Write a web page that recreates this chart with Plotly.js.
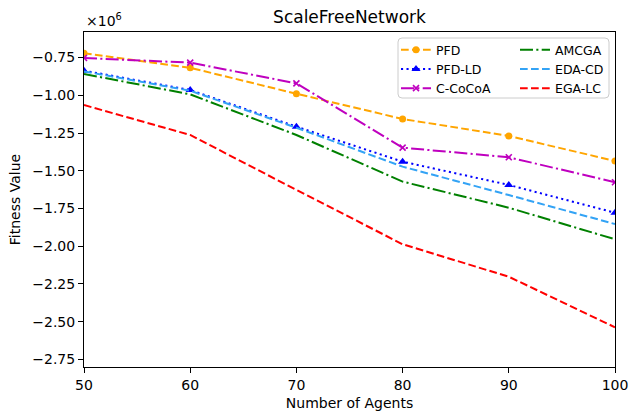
<!DOCTYPE html>
<html>
<head>
<meta charset="utf-8">
<script src="https://cdn.plot.ly/plotly-3.0.1.min.js"></script>
<style>html,body{margin:0;padding:0;background:#fff;}#chart{width:633px;height:416px;}</style>
</head>
<body>
<div id="chart"></div>
<script>
// Values in units of 1e6
const agents = [50, 60, 70, 80, 90, 100];
const pfd    = [-0.722, -0.818, -0.990, -1.157, -1.270, -1.435];
const pfdLd  = [-0.837, -0.965, -1.208, -1.440, -1.594, -1.778];
const cCocoa = [-0.753, -0.784, -0.921, -1.347, -1.411, -1.576];
const amcga  = [-0.859, -0.994, -1.263, -1.572, -1.745, -1.954];
const edaCd  = [-0.842, -0.970, -1.215, -1.473, -1.661, -1.853];
const egaLc  = [-1.065, -1.263, -1.627, -1.987, -2.202, -2.537];
const yTicks = [-0.75, -1.00, -1.25, -1.50, -1.75, -2.00, -2.25, -2.50, -2.75];
const xTicks = [50, 60, 70, 80, 90, 100];

const W = 633, H = 416;
const M = {l: 84, r: 18, t: 32, b: 49};
const PW = W - M.l - M.r, PH = H - M.t - M.b;
const px2x = p => (p - M.l) / PW;
const py2y = p => (H - M.b - p) / PH;

const lw = 2;
const traces = [
  {name: 'PFD', y: pfd, line: {color: '#FFA500', dash: '7.7px,3.3px', width: lw},
   mode: 'lines+markers', marker: {symbol: 'circle', size: 7, color: '#FFA500'}, legend: 'legend'},
  {name: 'PFD-LD', y: pfdLd, line: {color: '#0000FF', dash: '2.1px,3.4px', width: lw},
   mode: 'lines+markers', marker: {symbol: 'triangle-up', size: 8, color: '#0000FF'}, legend: 'legend'},
  {name: 'C-CoCoA', y: cCocoa, line: {color: '#BF00BF', dash: '13px,3.3px,2.1px,3.3px', width: lw},
   mode: 'lines+markers', marker: {symbol: 'x-thin', size: 6, color: '#BF00BF', line: {color: '#BF00BF', width: 1.6}}, legend: 'legend'},
  {name: 'AMCGA', y: amcga, line: {color: '#008000', dash: '13px,3.3px,2.1px,3.3px', width: lw},
   mode: 'lines', legend: 'legend2'},
  {name: 'EDA-CD', y: edaCd, line: {color: '#33A3F5', dash: '7.7px,3.3px', width: lw},
   mode: 'lines', legend: 'legend2'},
  {name: 'EGA-LC', y: egaLc, line: {color: '#FF0000', dash: '7.7px,3.3px', width: lw},
   mode: 'lines', legend: 'legend2'}
].map(t => Object.assign({type: 'scatter', x: agents}, t));

const axisCommon = {
  showgrid: false, zeroline: false, showline: true, mirror: true,
  linecolor: '#000', linewidth: 1, ticks: 'outside', ticklen: 5, tickwidth: 1,
  tickcolor: '#000', tickfont: {family: 'DejaVu Sans', size: 14, color: '#000'}
};

// Combined legend frame (rounded rectangle)
const bx0 = px2x(398), bx1 = px2x(609), by0 = py2y(98), by1 = py2y(38);
const rx = 4 / PW, ry = 4 / PH;
const framePath = `M${bx0 + rx},${by1} L${bx1 - rx},${by1} Q${bx1},${by1} ${bx1},${by1 - ry} ` +
  `L${bx1},${by0 + ry} Q${bx1},${by0} ${bx1 - rx},${by0} L${bx0 + rx},${by0} ` +
  `Q${bx0},${by0} ${bx0},${by0 + ry} L${bx0},${by1 - ry} Q${bx0},${by1} ${bx0 + rx},${by1} Z`;

const legendCommon = {
  bgcolor: 'rgba(0,0,0,0)', borderwidth: 0, xanchor: 'left', yanchor: 'top',
  font: {family: 'DejaVu Sans', size: 12.5, color: '#000'}, itemwidth: 30,
  tracegroupgap: 0
};

const layout = {
  width: W, height: H, margin: M,
  paper_bgcolor: '#fff', plot_bgcolor: '#fff',
  font: {family: 'DejaVu Sans', color: '#000'},
  title: {text: 'ScaleFreeNetwork', font: {family: 'DejaVu Sans', size: 17, color: '#000'},
          x: 0.5, xref: 'paper', y: 1 - 17 / H, yanchor: 'middle'},
  xaxis: Object.assign({}, axisCommon, {
    range: [50, 100], tickvals: xTicks, ticktext: xTicks.map(String),
    title: {text: 'Number of Agents', font: {family: 'DejaVu Sans', size: 14, color: '#000'}, standoff: 6}
  }),
  yaxis: Object.assign({}, axisCommon, {
    range: [-2.80, -0.581], tickvals: yTicks, ticktext: yTicks.map(v => '\u2212' + Math.abs(v).toFixed(2)),
    title: {text: 'Fitness Value', font: {family: 'DejaVu Sans', size: 14, color: '#000'}, standoff: 8}
  }),
  showlegend: true,
  legend: Object.assign({}, legendCommon, {x: px2x(396), y: py2y(35)}),
  legend2: Object.assign({}, legendCommon, {x: px2x(515), y: py2y(35)}),
  shapes: [{type: 'path', xref: 'paper', yref: 'paper', path: framePath,
            fillcolor: 'rgba(255,255,255,0.8)', line: {color: '#CCCCCC', width: 1}, layer: 'above'}],
  annotations: [{text: '\u00d710<sup>6</sup>', xref: 'paper', yref: 'paper', x: 0, y: 1,
                 xanchor: 'left', yanchor: 'bottom', showarrow: false, yshift: 1,
                 font: {family: 'DejaVu Sans', size: 14, color: '#000'}}]
};

Plotly.newPlot('chart', traces, layout, {displayModeBar: false, staticPlot: true});
</script>
</body>
</html>
